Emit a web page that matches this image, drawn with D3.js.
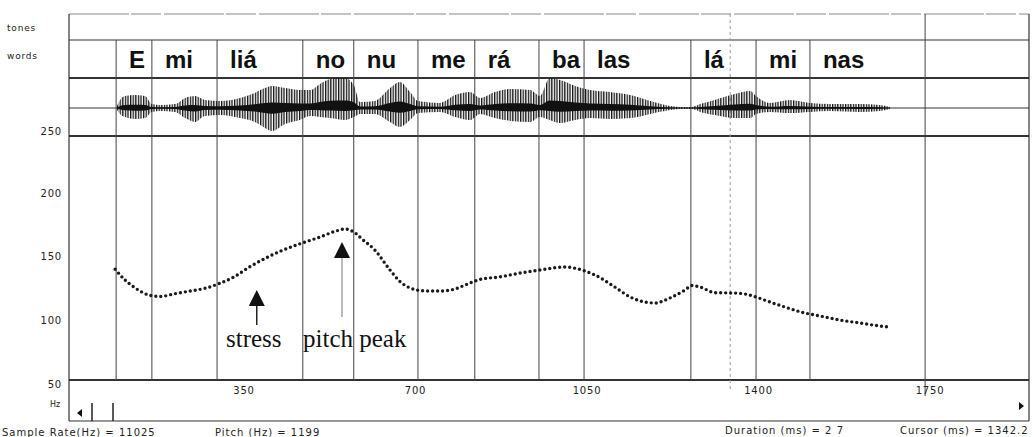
<!DOCTYPE html>
<html>
<head>
<meta charset="utf-8">
<script src="https://cdn.jsdelivr.net/npm/d3@7"></script>
<style>
  html, body { margin: 0; padding: 0; background: #fff; }
  svg { display: block; }
  .ui { font-family: "DejaVu Sans", sans-serif; fill: #222; }
</style>
</head>
<body>
<div id="chart"></div>
<script>
'use strict';

// segment boundaries (ms) and the syllables between them
var boundaries = [89, 162, 295, 470, 574, 705, 821, 952, 1044, 1262, 1395, 1505, 1740];
var words = ['E', 'mi', 'liá', 'no', 'nu', 'me', 'rá', 'ba', 'las', 'lá', 'mi', 'nas'];

// pitch track (ms, Hz)
var pitchMs = [87, 107, 128, 158, 179, 209, 240, 270, 301, 332, 362, 393, 423, 464, 505, 536, 556, 577, 590, 617,
  648, 668, 689, 719, 750, 781, 801, 832, 872, 913, 954, 1005, 1032, 1066, 1107, 1138, 1168, 1189, 1219,
  1250, 1264, 1281, 1311, 1352, 1372, 1393, 1423, 1454, 1495, 1526, 1566, 1607, 1648, 1668];
var pitchHz = [137, 128.6, 122.3, 116.5, 115.6, 117.8, 119.9, 122, 126, 131.5, 139, 145.5, 151, 157, 162.3, 166.8, 168.6, 165.5, 161, 152.1,
  136.4, 127.5, 122.3, 120, 119.9, 121.5, 124.6, 129, 131, 134, 136.4, 138.8, 137.2, 132.5, 123, 115.2, 111.3, 110.5, 114.4,
  120.7, 124.2, 123, 118.6, 118.3, 117.6, 115.4, 111.3, 107.3, 102.6, 100.3, 97.1, 94.8, 92.4, 91.6];

// waveform envelope (ms, relative amplitude above / below zero)
var waveMs = [89, 97, 107, 128, 148, 162, 179, 209, 230, 250, 270, 301, 342, 372, 393, 407, 434, 464, 485, 505,
  526, 556, 574, 587, 617, 648, 668, 689, 705, 750, 781, 811, 832, 862, 893, 934, 954, 974, 995, 1026,
  1056, 1097, 1138, 1179, 1209, 1240, 1264, 1281, 1311, 1352, 1383, 1395, 1423, 1464, 1505, 1546, 1607, 1648, 1668];
var waveUp = [0, 0.29, 0.43, 0.46, 0.43, 0.14, 0.11, 0.14, 0.36, 0.43, 0.29, 0.25, 0.36, 0.54, 0.71, 0.79, 0.71, 0.64, 0.64, 0.86,
  1.04, 1.07, 0.82, 0.21, 0.25, 0.71, 0.93, 0.57, 0.25, 0.18, 0.46, 0.57, 0.36, 0.57, 0.68, 0.64, 0.43, 1.07, 1.0, 0.79,
  0.64, 0.57, 0.46, 0.25, 0.11, 0.04, 0.04, 0.14, 0.29, 0.5, 0.61, 0.43, 0.18, 0.29, 0.18, 0.14, 0.14, 0.11, 0.04];
var waveDown = [0, -0.21, -0.32, -0.39, -0.36, -0.14, -0.11, -0.14, -0.36, -0.5, -0.29, -0.25, -0.36, -0.5, -0.71, -0.82, -0.57, -0.43, -0.29, -0.32,
  -0.36, -0.43, -0.32, -0.21, -0.21, -0.5, -0.68, -0.43, -0.18, -0.14, -0.32, -0.43, -0.21, -0.36, -0.46, -0.5, -0.32, -0.43, -0.54, -0.43,
  -0.36, -0.39, -0.36, -0.21, -0.11, -0.04, -0.04, -0.14, -0.25, -0.36, -0.36, -0.21, -0.14, -0.18, -0.14, -0.11, -0.14, -0.11, -0.04];

var hzTicks = [50, 100, 150, 200, 250];
var msTicks = [350, 700, 1050, 1400, 1750];
var cursorMs = 1342.2;

var statusLeft = ['Sample Rate(Hz) = 11025', 'Pitch (Hz) =  1199'];
var statusRight = ['Duration (ms) =   2 7', 'Cursor (ms) = 1342.2'];

var width = 1035, height = 437;
var left = 69, right = 1029;

var svg = d3.select('#chart')
  .append('svg')
  .attr('width', width)
  .attr('height', height);

var x = d3.scaleLinear().domain([0, 1950]).range([72.5, 1028]);
var y = d3.scaleLinear().domain([50, 250]).range([380, 125.4]);
var amp = d3.scaleLinear().domain([-1, 1]).range([136, 80]);
var ampCore = d3.scaleLinear().domain([-1, 1]).range([115, 101]);

// stripe pattern for the waveform spikes
var pat = svg.append('defs').append('pattern')
  .attr('id', 'stripes')
  .attr('patternUnits', 'userSpaceOnUse')
  .attr('width', 2.6).attr('height', 10);
pat.append('rect').attr('width', 1.3).attr('height', 10).attr('fill', '#111');

// frame lines
var frame = svg.append('g').attr('stroke', '#333').attr('fill', 'none');
frame.append('line').attr('x1', left).attr('x2', right).attr('y1', 14).attr('y2', 14)
  .attr('stroke', '#888').attr('stroke-dasharray', '60,2,30,3');
[[40, 1.2], [78, 2], [108, 1], [136, 2.2], [380, 2.2], [421, 1.2]].forEach(function(d) {
  frame.append('line').attr('x1', left).attr('x2', right).attr('y1', d[0]).attr('y2', d[0])
    .attr('stroke-width', d[1]);
});
frame.append('line').attr('x1', left).attr('x2', left).attr('y1', 14).attr('y2', 421).attr('stroke-width', 1.2);
frame.append('line').attr('x1', right).attr('x2', right).attr('y1', 14).attr('y2', 421).attr('stroke-width', 1.2);

// cursor (dashed, faint)
svg.append('line')
  .attr('x1', x(cursorMs)).attr('x2', x(cursorMs))
  .attr('y1', 14).attr('y2', 392)
  .attr('stroke', '#999').attr('stroke-dasharray', '3,3');

// segment boundaries
svg.append('g').selectAll('line')
  .data(boundaries)
  .enter()
  .append('line')
  .attr('x1', function(d) { return x(d); })
  .attr('x2', function(d) { return x(d); })
  .attr('y1', function(d, i) { return i === boundaries.length - 1 ? 14 : 40; })
  .attr('y2', function(d, i) { return i === boundaries.length - 1 ? 396 : 380; })
  .attr('stroke', '#444')
  .attr('stroke-width', 1);

// syllables
svg.append('g').selectAll('text')
  .data(words)
  .enter()
  .append('text')
  .attr('x', function(d, i) { return x(boundaries[i]) + 13; })
  .attr('y', 68)
  .attr('font-family', 'Liberation Sans, Arial, sans-serif')
  .attr('font-weight', 'bold')
  .attr('font-size', 24)
  .attr('fill', '#111')
  .text(function(d) { return d; });

// waveform
var area = d3.area()
  .x(function(d) { return x(d[0]); })
  .y0(function(d) { return amp(d[2]); })
  .y1(function(d) { return amp(d[1]); })
  .curve(d3.curveMonotoneX);
var waveData = waveMs.map(function(m, i) { return [m, waveUp[i], waveDown[i]]; });
svg.append('path')
  .datum(waveData)
  .attr('d', area)
  .attr('fill', 'url(#stripes)');
var coreArea = d3.area()
  .x(function(d) { return x(d[0]); })
  .y0(function(d) { return ampCore(d[2]); })
  .y1(function(d) { return ampCore(d[1]); })
  .curve(d3.curveMonotoneX);
svg.append('path')
  .datum(waveData)
  .attr('d', coreArea)
  .attr('fill', '#111');

// pitch track, drawn as dots
var line = d3.line()
  .x(function(d) { return x(d[0]); })
  .y(function(d) { return y(d[1]); })
  .curve(d3.curveMonotoneX);
svg.append('path')
  .datum(pitchMs.map(function(m, i) { return [m, pitchHz[i]]; }))
  .attr('d', line)
  .attr('fill', 'none')
  .attr('stroke', '#1a1a1a')
  .attr('stroke-width', 3.4)
  .attr('stroke-linecap', 'round')
  .attr('stroke-dasharray', '0,5');

// y axis labels
svg.append('g').selectAll('text')
  .data(hzTicks)
  .enter()
  .append('text')
  .attr('class', 'ui')
  .attr('x', 62)
  .attr('y', function(d) { return d === 250 ? y(d) + 6 : y(d) + 4; })
  .attr('dy', '0.35em')
  .attr('text-anchor', 'end')
  .attr('font-size', 10)
  .attr('letter-spacing', 0.8)
  .text(function(d) { return d; });

// time axis labels
svg.append('g').selectAll('text')
  .data(msTicks)
  .enter()
  .append('text')
  .attr('class', 'ui')
  .attr('x', function(d) { return x(d); })
  .attr('y', 390)
  .attr('dy', '0.35em')
  .attr('text-anchor', 'middle')
  .attr('font-size', 10)
  .attr('letter-spacing', 0.8)
  .text(function(d) { return d; });

// tier names
svg.append('text').attr('class', 'ui').attr('x', 7).attr('y', 31).attr('font-size', 9).attr('letter-spacing', 0.8).text('tones');
svg.append('text').attr('class', 'ui').attr('x', 7).attr('y', 59).attr('font-size', 9).attr('letter-spacing', 0.8).text('words');
svg.append('text').attr('class', 'ui').attr('x', 50).attr('y', 407).attr('font-size', 8).text('Hz');

// scroll bar bits
svg.append('path').attr('d', 'M77,413 L82,409 L82,417 Z').attr('fill', '#111');
svg.append('path').attr('d', 'M1024,406 L1019,402 L1019,410 Z').attr('fill', '#111');
[92, 113].forEach(function(px) {
  svg.append('line').attr('x1', px).attr('x2', px).attr('y1', 403).attr('y2', 421)
    .attr('stroke', '#222').attr('stroke-width', 1.5);
});

// annotations
var notes = [
  { ms: 376, tip: 290, stem: 325, w: 16, dark: true },
  { ms: 550, tip: 242, stem: 317, w: 16, dark: false }
];
notes.forEach(function(n) {
  var cx = x(n.ms);
  svg.append('line').attr('x1', cx).attr('x2', cx).attr('y1', n.tip + 10).attr('y2', n.stem)
    .attr('stroke', n.dark ? '#222' : '#777').attr('stroke-width', n.dark ? 1.5 : 1);
  svg.append('path')
    .attr('d', 'M' + cx + ',' + n.tip + ' L' + (cx + n.w / 2) + ',' + (n.tip + 16) + ' L' + (cx - n.w / 2) + ',' + (n.tip + 16) + ' Z')
    .attr('fill', '#111');
});
svg.append('text').attr('x', 226).attr('y', 347)
  .attr('font-family', 'Liberation Serif, Times New Roman, serif').attr('font-size', 25).attr('fill', '#111')
  .text('stress');
svg.append('text').attr('x', 303).attr('y', 347)
  .attr('font-family', 'Liberation Serif, Times New Roman, serif').attr('font-size', 25).attr('fill', '#111')
  .text('pitch peak');

// status line
svg.append('text').attr('class', 'ui').attr('x', 2).attr('y', 436).attr('font-size', 10).attr('letter-spacing', 1).text(statusLeft[0]);
svg.append('text').attr('class', 'ui').attr('x', 215).attr('y', 436).attr('font-size', 10).attr('letter-spacing', 1).text(statusLeft[1]);
svg.append('text').attr('class', 'ui').attr('x', 725).attr('y', 434).attr('font-size', 10).attr('letter-spacing', 1).text(statusRight[0]);
svg.append('text').attr('class', 'ui').attr('x', 900).attr('y', 434).attr('font-size', 10).attr('letter-spacing', 1).text(statusRight[1]);
</script>
</body>
</html>
